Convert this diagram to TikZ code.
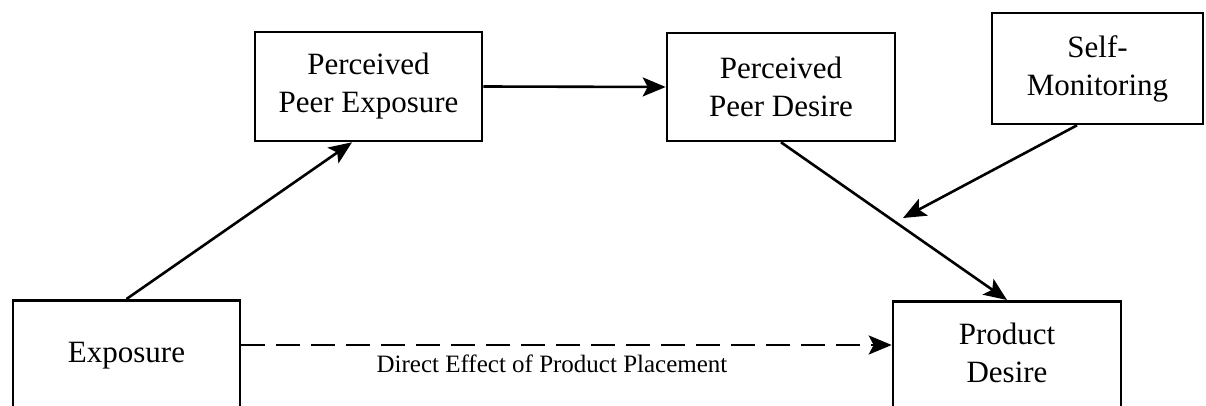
\documentclass[tikz,border=0pt]{standalone}
\usepackage{fontspec}
\setmainfont{Liberation Serif}
\usetikzlibrary{arrows.meta,calc}
\begin{document}
\begin{tikzpicture}[x=1pt,y=-1pt,
  frame/.style={draw, line width=2.6pt, inner sep=0pt},
  box/.style={frame, align=center, font=\fontsize{31}{38}\selectfont},
  boxtext/.style={align=center, inner sep=0pt, font=\fontsize{31}{38}\selectfont},
  lbl/.style={inner sep=0pt, font=\fontsize{25}{28}\selectfont},
  tip/.style={-{Stealth[length=23pt,width=19pt,inset=5pt]}},
  link/.style={line width=2.6pt, tip},
  dashlink/.style={line width=2.6pt, dash pattern=on 24pt off 11pt, tip}
]
\useasboundingbox (0,0) rectangle (1206,406);
\clip (0,0) rectangle (1206,406);

% upper row of constructs
\node[box, minimum width=227pt, minimum height=109pt] (ppe) at (368.5,86.5) {Perceived\\Peer Exposure};
\node[box, minimum width=228pt, minimum height=108pt] (ppd) at (781,87) {Perceived\\Peer Desire};
\node[box, minimum width=211pt, minimum height=111pt] (sm) at (1097.5,68.5) {Self-\\Monitoring};

% lower boxes run past the bottom edge
\node[frame, minimum width=227pt, minimum height=140pt, anchor=north] (expbox) at (126.5,299) {};
\node[boxtext, anchor=base] (exptext) at (126.5,362) {Exposure};
\node[frame, minimum width=228pt, minimum height=140pt, anchor=north] (pdbox) at (1007,300) {};
\node[boxtext] (pdtext) at (1007,353) {Product\\Desire};

% paths
\draw[link] (expbox.north) -- ([xshift=-16.5pt]ppe.south);
\draw[link] (ppe.east) -- (ppd.west);
\draw[link] (ppd.south) -- (pdbox.north);
\coordinate (mod) at (903,218);
\draw[link] ([xshift=-20.5pt]sm.south) -- (mod);

\coordinate (dy) at (0,345);
\draw[dashlink] (expbox.east |- dy) -- (pdbox.west |- dy);
\node[lbl, anchor=base] (direct) at (552,372) {Direct Effect of Product Placement};
\end{tikzpicture}
\end{document}
